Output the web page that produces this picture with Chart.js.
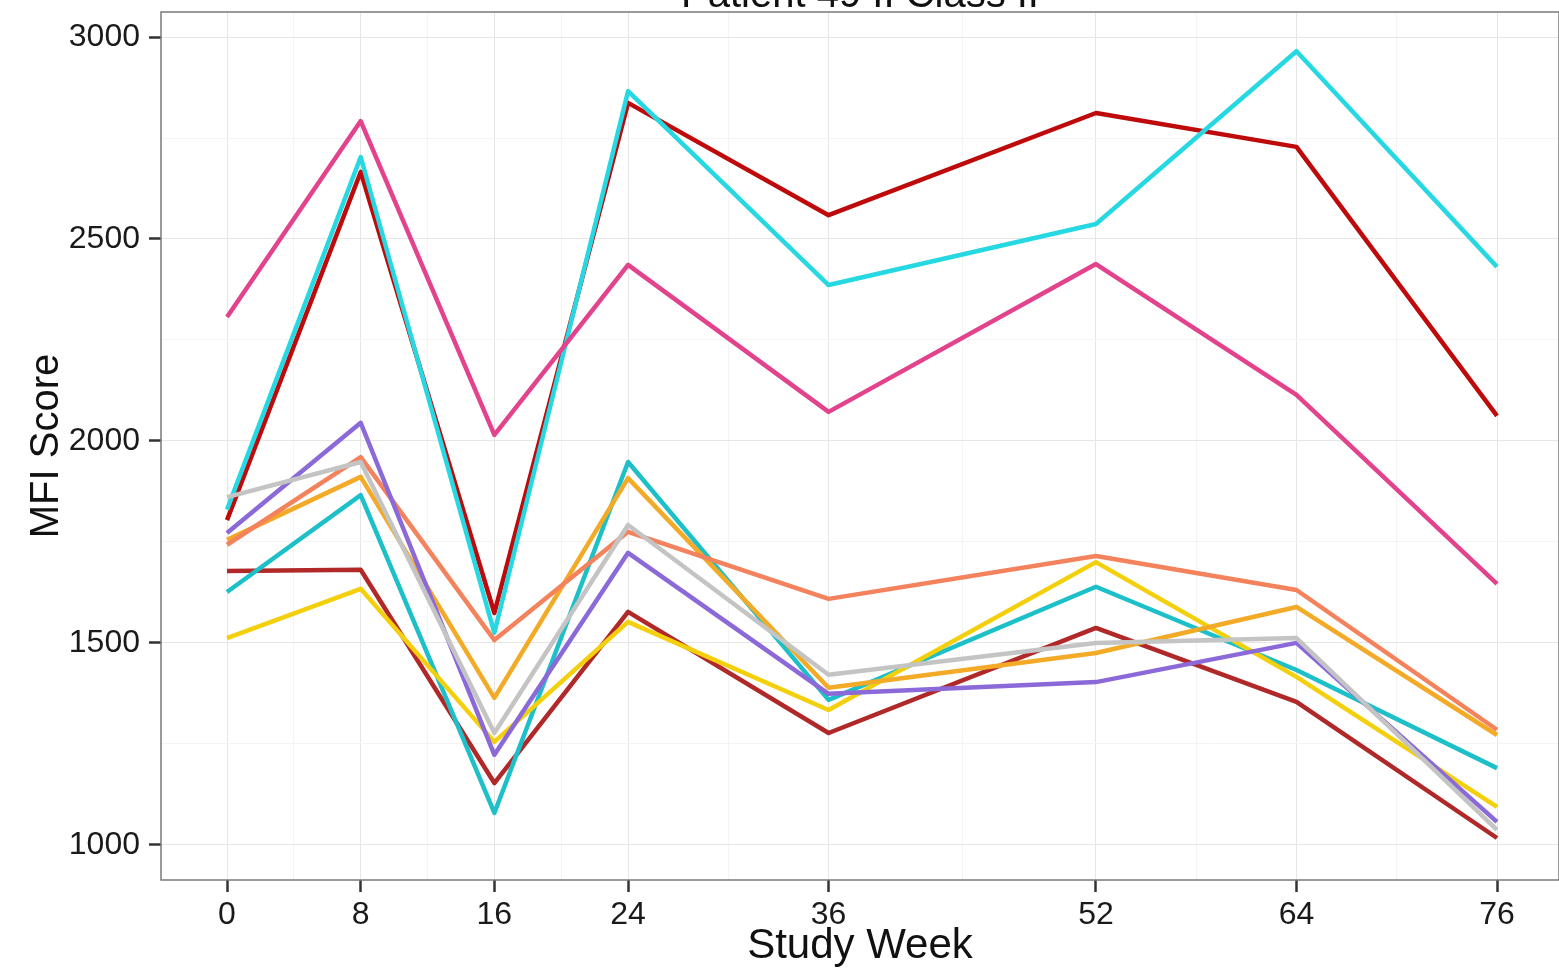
<!DOCTYPE html>
<html>
<head>
<meta charset="utf-8">
<title>MFI Score by Study Week</title>
<script src="https://cdn.jsdelivr.net/npm/chart.js@4"></script>
<style>
    html, body { margin: 0; padding: 0; background: #fff; overflow: hidden; }
    #wrap { position: absolute; left: 0; top: -20px; width: 1559px; height: 992px; }
</style>
</head>
<body>
<div id="wrap"><canvas id="mfiChart"></canvas></div>
<script>
// ── Data ─────────────────────────────────────────────────────────────────────
const weeks      = [0, 8, 16, 24, 36, 52, 64, 76];
const minorWeeks = [4, 12, 20, 30, 44, 58, 70];
const yBreaks    = [1000, 1500, 2000, 2500, 3000];
const yMinor     = [1250, 1750, 2250, 2750];

const cyanVals   = [1830, 2703, 1525, 2866, 2386, 2537, 2965, 2431];
const redVals    = [1804, 2666, 1574, 2837, 2559, 2812, 2728, 2062];
const pinkVals   = [2307, 2792, 2015, 2436, 2072, 2438, 2114, 1646];
const purpleVals = [1772, 2045, 1223, 1723, 1374, 1403, 1500, 1057];
const grayVals   = [1861, 1948, 1277, 1792, 1421, 1500, 1512, 1037];
const coralVals  = [1743, 1960, 1507, 1775, 1609, 1715, 1631, 1285];
const orangeVals = [1755, 1911, 1364, 1908, 1389, 1475, 1589, 1272];
const tealVals   = [1626, 1866, 1079, 1948, 1359, 1639, 1433, 1190];
const yellowVals = [1512, 1634, 1255, 1552, 1334, 1700, 1416, 1094];
const brownVals  = [1678, 1681, 1153, 1577, 1277, 1537, 1354, 1017];

const seriesList = [
    { name: 'gray',   vals: grayVals,   color: '#C4C4C4' },
    { name: 'purple', vals: purpleVals, color: '#8C69D9' },
    { name: 'coral',  vals: coralVals,  color: '#F4825C' },
    { name: 'orange', vals: orangeVals, color: '#F3AA26' },
    { name: 'yellow', vals: yellowVals, color: '#F4D00C' },
    { name: 'teal',   vals: tealVals,   color: '#1DC0C8' },
    { name: 'brown',  vals: brownVals,  color: '#B02828' },
    { name: 'pink',   vals: pinkVals,   color: '#E2438C' },
    { name: 'cyan',   vals: cyanVals,   color: '#25D8E2' },
    { name: 'red',    vals: redVals,    color: '#BE0A0A' }
];

const FONT = "'Liberation Sans', Arial, Helvetica, sans-serif";

// ── Panel border (theme_bw style box) ────────────────────────────────────────
const panelBorder = {
    id: 'panelBorder',
    afterDraw(chart) {
        const a = chart.chartArea, c = chart.ctx;
        c.save();
        c.strokeStyle = '#7A7A7A';
        c.lineWidth = 1.5;
        c.strokeRect(a.left, a.top, a.right - a.left, a.bottom - a.top);
        c.restore();
    }
};

function isMajor(ctx, majors) {
    return ctx.tick && majors.includes(ctx.tick.value);
}

new Chart(document.getElementById('mfiChart'), {
    type: 'line',
    data: {
        datasets: seriesList.map(s => ({
            label: s.name,
            data: weeks.map((w, i) => ({ x: w, y: s.vals[i] })),
            borderColor: s.color,
            backgroundColor: s.color,
            borderWidth: 4.5,
            borderJoinStyle: 'round',
            pointRadius: 0,
            tension: 0,
            fill: false
        }))
    },
    plugins: [panelBorder],
    options: {
        responsive: true,
        maintainAspectRatio: false,
        animation: false,
        layout: { padding: 0 },
        plugins: {
            legend: { display: false },
            tooltip: { enabled: false },
            title: {
                display: true,
                text: 'Patient 49 II Class II',
                fullSize: false,
                color: '#111',
                font: { family: FONT, size: 40, weight: 'normal', lineHeight: 0.8 },
                padding: { top: 0, bottom: 0 }
            }
        },
        scales: {
            x: {
                type: 'linear',
                min: -3.95,
                max: 79.71,
                afterBuildTicks(scale) {
                    scale.ticks = weeks.concat(minorWeeks).map(v => ({ value: v }));
                },
                afterFit(scale) { scale.height = 92; },
                ticks: {
                    autoSkip: false,
                    maxRotation: 0,
                    padding: 4,
                    color: '#1A1A1A',
                    font: { family: FONT, size: 32 },
                    callback: v => weeks.includes(v) ? String(v) : ''
                },
                grid: {
                    color: ctx => isMajor(ctx, weeks) ? '#E6E6E6' : '#F4F4F4',
                    tickColor: ctx => isMajor(ctx, weeks) ? '#333' : 'rgba(0,0,0,0)',
                    tickLength: 12,
                    lineWidth: 1,
                    tickWidth: 2.5
                },
                border: { display: false },
                title: {
                    display: true,
                    text: 'Study Week',
                    color: '#111',
                    font: { family: FONT, size: 42 },
                    padding: { top: 0, bottom: 0 }
                }
            },
            y: {
                type: 'linear',
                min: 913,
                max: 3062,
                afterBuildTicks(scale) {
                    scale.ticks = yBreaks.concat(yMinor).map(v => ({ value: v }));
                },
                afterFit(scale) { scale.width = 161; },
                ticks: {
                    autoSkip: false,
                    padding: 9,
                    color: '#1A1A1A',
                    font: { family: FONT, size: 32 },
                    callback: v => yBreaks.includes(v) ? String(v) : ''
                },
                grid: {
                    color: ctx => isMajor(ctx, yBreaks) ? '#E6E6E6' : '#F4F4F4',
                    tickColor: ctx => isMajor(ctx, yBreaks) ? '#333' : 'rgba(0,0,0,0)',
                    tickLength: 12,
                    lineWidth: 1,
                    tickWidth: 2.5
                },
                border: { display: false },
                title: {
                    display: true,
                    text: 'MFI Score',
                    color: '#111',
                    font: { family: FONT, size: 40 },
                    padding: { top: 23, bottom: 0 }
                }
            }
        }
    }
});
</script>
</body>
</html>
